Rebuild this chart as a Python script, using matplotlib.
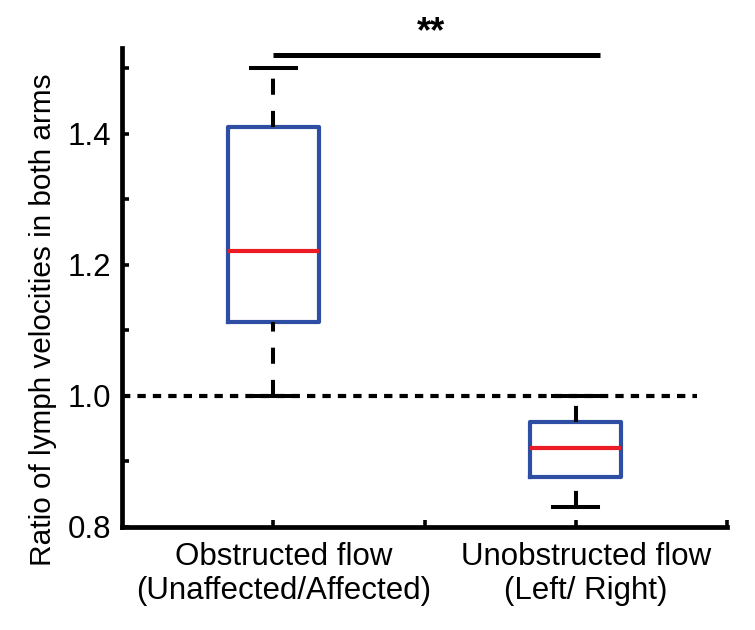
import matplotlib

matplotlib.use("Agg")
import matplotlib.pyplot as plt
import matplotlib.transforms as mtransforms
from matplotlib.ticker import FixedLocator

plt.rcParams["font.family"] = ["Liberation Sans", "DejaVu Sans"]

# --- data ---
groups = ["Obstructed flow\n(Unaffected/Affected)", "Unobstructed flow\n(Left/ Right)"]
medians = [1.221, 0.920]
q1 = [1.113, 0.876]
q3 = [1.411, 0.960]
whisker_low = [1.000, 0.830]
whisker_high = [1.500, 1.000]
reference_ratio = 1.0
signif_y = 1.52
signif_text = "**"

BLUE = "#2d4ea2"
RED = "#ec1c24"

fig = plt.figure(figsize=(7.55, 6.3), dpi=100)
ax = fig.add_axes([0.1616, 0.1635, 0.8014, 0.7605])

stats = []
for i, name in enumerate(groups):
    stats.append({
        "label": name, "med": medians[i], "q1": q1[i], "q3": q3[i],
        "whislo": whisker_low[i], "whishi": whisker_high[i], "fliers": [],
    })

positions = list(range(1, len(groups) + 1))
art = ax.bxp(
    stats, positions=positions, widths=0.30, showfliers=False,
    boxprops=dict(color=BLUE, lw=3.0),
    medianprops=dict(color=RED, lw=3.0),
    whiskerprops=dict(color="black", lw=2.9, linestyle=(0, (4, 4))),
    capprops=dict(color="black", lw=2.9),
    zorder=3,
)
# dashes start at the lower end of each whisker (like the reference)
for wl in art["whiskers"]:
    y = wl.get_ydata()
    if y[0] > y[-1]:
        wl.set_ydata(y[::-1])
    wl.set_dash_capstyle("butt")

# dotted reference line at ratio 1
ax.plot([0.5, 2.4], [reference_ratio, reference_ratio], color="black", lw=3.0,
        linestyle=(0, (2.0, 1.7)), zorder=2)

# significance bar
ax.plot([positions[0], 2.08], [signif_y, signif_y], color="black", lw=3.6,
        solid_capstyle="butt", zorder=3)
ax.text(1.52, signif_y + 0.008, signif_text, ha="center", va="bottom",
        fontsize=26, fontweight="bold")

ax.set_xlim(0.5, 2.5)
ax.set_ylim(0.8, 1.531)

ax.set_xticks(positions)
ax.set_xticklabels(groups, fontsize=22.5, linespacing=1.15)
ax.xaxis.set_minor_locator(FixedLocator([1.5, 2.5]))
ax.set_yticks([0.8, 1.0, 1.2, 1.4])
ax.set_yticklabels(["0.8", "1.0", "1.2", "1.4"], fontsize=22.5)
ax.yaxis.set_minor_locator(FixedLocator([0.9, 1.1, 1.3, 1.5]))

ax.tick_params(axis="both", which="both", direction="in", length=5, width=2.6,
               color="black")
ax.tick_params(axis="x", which="major", pad=11)
ax.tick_params(axis="y", which="major", pad=8)

offset = mtransforms.ScaledTranslation(10 / 100, 0, fig.dpi_scale_trans)
for lbl in ax.get_xticklabels():
    lbl.set_transform(lbl.get_transform() + offset)

ax.set_ylabel("Ratio of lymph velocities in both arms", fontsize=21.4)
ax.yaxis.set_label_coords(-0.107, 0.432)

for side in ("top", "right"):
    ax.spines[side].set_visible(False)
for side in ("left", "bottom"):
    ax.spines[side].set_linewidth(3.4)
    ax.spines[side].set_capstyle("projecting")

fig.savefig("out.png", dpi=100)
